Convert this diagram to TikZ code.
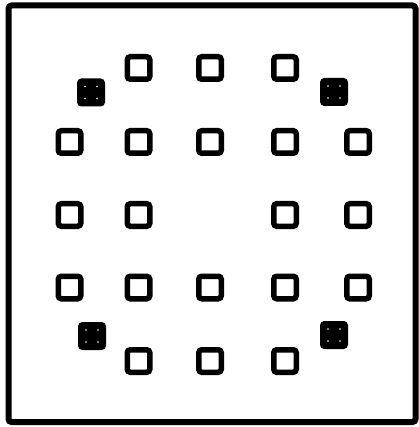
\documentclass[tikz,border=0pt]{standalone}
\usetikzlibrary{positioning}
\tikzset{
  pad/.style={draw,line width=5.5pt,rounded corners=3pt,minimum size=22.5pt,inner sep=0pt},
  padfill/.style={pad,fill=black,line width=3pt,minimum size=25pt},
}
\begin{document}
\begin{tikzpicture}[x=1pt,y=-1pt]
\useasboundingbox (0,0) rectangle (418,427);
\draw[line width=6pt,rounded corners=3pt] (8.5,5.5) rectangle (415.5,422);
% open pads, row by row
\foreach \x[count=\i] in {138.5,210,285}{\node[pad] (a\i) at (\x,68) {};}
\foreach \x[count=\i] in {69.5,138.5,210,285,358}{\node[pad] (b\i) at (\x,142) {};}
\foreach \x[count=\i] in {69.5,138.5,285,358}{\node[pad] (c\i) at (\x,215) {};}
\foreach \x[count=\i] in {69.5,138.5,210,285,358}{\node[pad] (d\i) at (\x,287.5) {};}
\foreach \x[count=\i] in {138.5,210,285}{\node[pad] (e\i) at (\x,361) {};}
% filled corner pads
\foreach \x/\y[count=\i] in {91/92.5,334/92,92/336,334/335}{
  \node[padfill] (f\i) at (\x,\y) {};
  \foreach \dx/\dy in {-6/-6,6/-6,-6/6,6/6}{\fill[white] ({\x+\dx},{\y+\dy}) circle (0.8pt);}
}
\end{tikzpicture}
\end{document}
